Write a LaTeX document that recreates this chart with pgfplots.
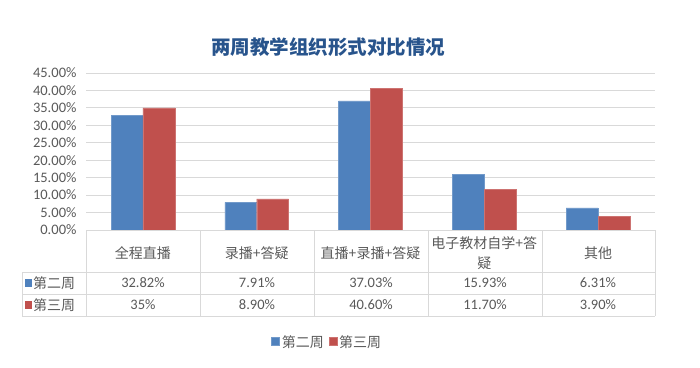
\documentclass[border=0pt]{standalone}
\usepackage{pgfplots}
\pgfplotsset{compat=1.18}
\usepackage{fontspec}
\setmainfont{Carlito}
\newfontfamily\cjk{Noto Sans CJK SC}
\definecolor{cblue}{HTML}{4F81BD}
\definecolor{cred}{HTML}{C0504D}
\definecolor{ctxt}{HTML}{595959}
\definecolor{cgrid}{HTML}{D9D9D9}
\definecolor{ctitle}{RGB}{40,84,140}
\begin{document}
\begin{tikzpicture}[x=1pt,y=1pt]
\path[use as bounding box] (0,0) rectangle (700,367);
\begin{axis}[
  at={(86pt,137pt)}, anchor=south west,
  scale only axis, width=569pt, height=157pt,
  xmin=-0.5, xmax=4.5, ymin=0, ymax=45,
  xtick={0,1,2,3,4},
  xticklabels={全程直播, 录播+答疑, 直播+录播+答疑, {电子教材自学+答\\疑}, 其他},
  xticklabel style={font=\cjk\fontsize{14}{19.5}\selectfont, text=ctxt, anchor=center, yshift=-23pt, align=center},
  major tick length=0pt,
  ytick={0,5,...,45},
  yticklabel={\pgfmathprintnumber[fixed,fixed zerofill,precision=2]{\tick}\%},
  yticklabel style={font=\fontsize{14.5}{16}\selectfont, text=ctxt, xshift=-6pt},
  /pgf/number format/assume math mode=true,
  ymajorgrids, grid style={cgrid, line width=1pt},
  axis line style={draw=none},
  axis x line*=bottom, axis y line*=left,
  clip=false,
  legend style={at={(0.424,-0.713)}, anchor=center, draw=none, fill=none,
    font=\cjk\fontsize{14}{16}\selectfont, text=ctxt, legend columns=-1,
    /tikz/every even column/.append style={column sep=3pt}},
  legend image code/.code={\fill[#1] (0pt,-3.5pt) rectangle (8pt,4.5pt);},
]
\addplot[ybar, bar width=0.28, bar shift=-0.14, fill=cblue, draw=cblue!80!white] coordinates {(0,32.82) (1,7.91) (2,37.03) (3,15.93) (4,6.31)};
\addplot[ybar, bar width=0.28, bar shift=0.14, fill=cred, draw=cred!80!white] coordinates {(0,35) (1,8.90) (2,40.60) (3,11.70) (4,3.90)};
\legend{第二周,第三周}
\end{axis}
% table grid
\begin{scope}[draw=cgrid, line width=1pt]
\draw (86,137) -- (655,137);
\draw (22,95) -- (655,95);
\draw (22,73) -- (655,73);
\draw (22,51) -- (655,51);
\foreach \x in {86,200,314,428,542,655} \draw (\x,137) -- (\x,51);
\draw (22,95) -- (22,51);
\end{scope}
% row headers
\fill[cblue] (25,80) rectangle (32,88);
\fill[cred] (25,58) rectangle (32,66);
\node[anchor=west, inner sep=0pt, text=ctxt, font=\cjk\fontsize{14}{16}\selectfont] at (33,84) {第二周};
\node[anchor=west, inner sep=0pt, text=ctxt, font=\cjk\fontsize{14}{16}\selectfont] at (33,62) {第三周};
% values
\begin{scope}[every node/.style={text=ctxt, font=\fontsize{14.5}{16}\selectfont, inner sep=0pt}]
\node at (143,84) {32.82\%};
\node at (257,84) {7.91\%};
\node at (371,84) {37.03\%};
\node at (485,84) {15.93\%};
\node at (598,84) {6.31\%};
\node at (143,62) {35\%};
\node at (257,62) {8.90\%};
\node at (371,62) {40.60\%};
\node at (485,62) {11.70\%};
\node at (598,62) {3.90\%};
\end{scope}
\node[text=ctitle, font=\cjk\bfseries\fontsize{19.5}{22}\selectfont] at (328,320) {两周教学组织形式对比情况};
\end{tikzpicture}
\end{document}
